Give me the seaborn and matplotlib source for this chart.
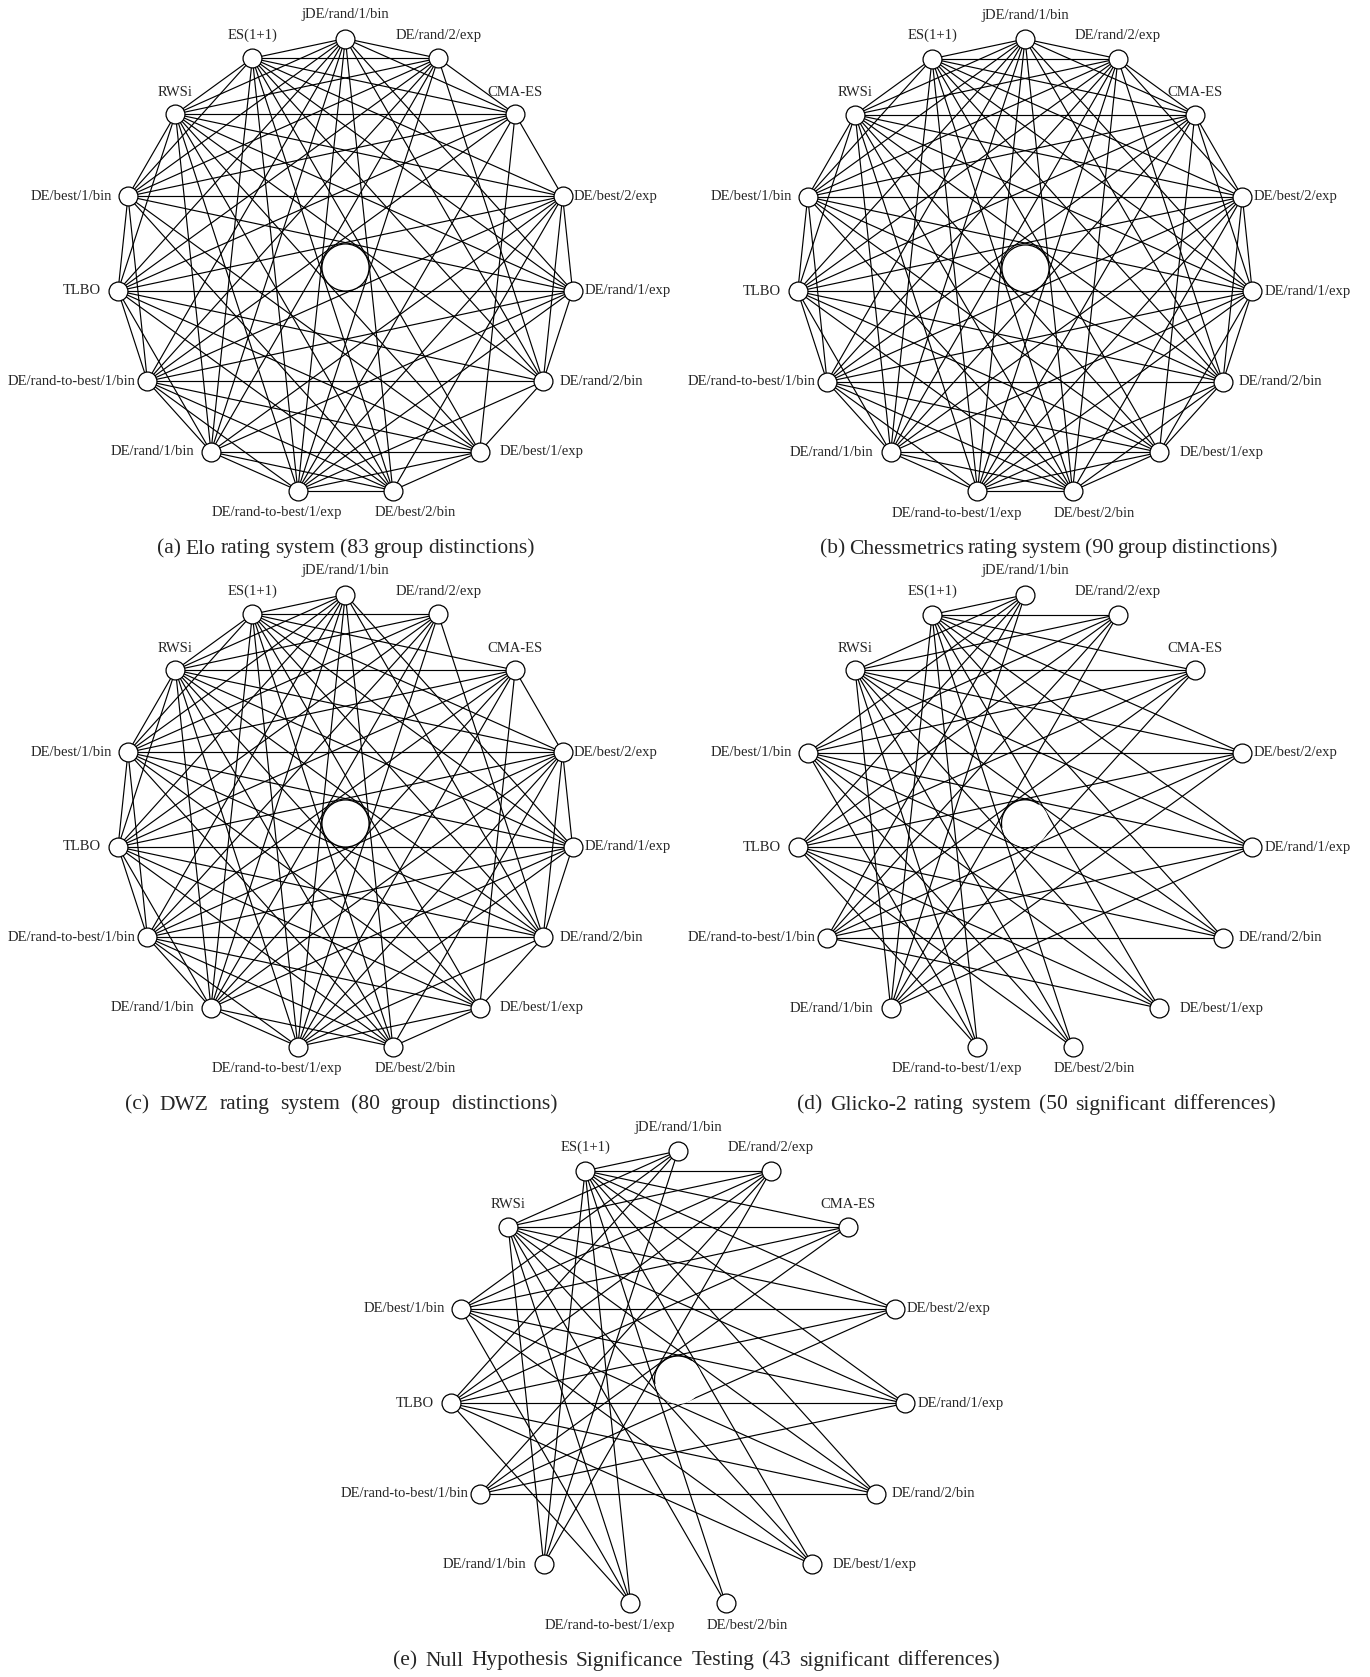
import numpy as np
import pandas as pd
import matplotlib
matplotlib.use("Agg")
import matplotlib.pyplot as plt
import seaborn as sns
from itertools import combinations

# =========================
# 1. DATA
# =========================
# algorithms in drawing order (clockwise, starting at the top)
algorithms = [
    "jDE/rand/1/bin", "DE/rand/2/exp", "CMA-ES", "DE/best/2/exp", "DE/rand/1/exp",
    "DE/rand/2/bin", "DE/best/1/exp", "DE/best/2/bin", "DE/rand-to-best/1/exp",
    "DE/rand/1/bin", "DE/rand-to-best/1/bin", "TLBO", "DE/best/1/bin", "RWSi", "ES(1+1)",
]

# dense panels: pairs WITHOUT a significant difference
elo_missing = [
    ("jDE/rand/1/bin", "DE/best/2/exp"), ("DE/best/2/exp", "DE/best/1/exp"),
    ("DE/best/1/exp", "DE/rand/2/exp"), ("DE/rand/2/exp", "DE/rand/1/exp"),
    ("DE/rand/1/exp", "DE/best/2/bin"), ("DE/best/2/bin", "CMA-ES"),
    ("CMA-ES", "DE/rand/2/bin"), ("DE/rand/2/bin", "DE/rand/1/bin"),
    ("DE/rand/1/bin", "DE/best/1/bin"), ("DE/best/1/bin", "DE/rand-to-best/1/exp"),
    ("DE/rand-to-best/1/exp", "TLBO"), ("TLBO", "ES(1+1)"),
    ("ES(1+1)", "DE/rand-to-best/1/bin"), ("DE/rand-to-best/1/bin", "RWSi"),
    ("jDE/rand/1/bin", "DE/best/1/exp"), ("DE/rand/2/exp", "DE/best/2/exp"),
    ("DE/rand/1/exp", "DE/best/1/exp"), ("DE/rand/2/exp", "DE/best/2/bin"),
    ("CMA-ES", "DE/rand/1/exp"), ("DE/rand/2/bin", "DE/best/2/bin"),
    ("CMA-ES", "DE/rand/1/bin"), ("DE/rand/2/bin", "DE/best/1/bin"),
]
chess_missing = [
    ("jDE/rand/1/bin", "DE/best/2/exp"), ("DE/best/2/exp", "DE/best/1/exp"),
    ("DE/best/1/exp", "DE/rand/2/exp"), ("DE/rand/2/exp", "DE/rand/1/exp"),
    ("DE/rand/1/exp", "DE/best/2/bin"), ("DE/best/2/bin", "CMA-ES"),
    ("CMA-ES", "DE/rand/2/bin"), ("DE/rand/2/bin", "DE/rand/1/bin"),
    ("DE/rand/1/bin", "DE/best/1/bin"), ("DE/best/1/bin", "DE/rand-to-best/1/exp"),
    ("DE/rand-to-best/1/exp", "TLBO"), ("TLBO", "ES(1+1)"),
    ("ES(1+1)", "DE/rand-to-best/1/bin"), ("DE/rand-to-best/1/bin", "RWSi"),
    ("jDE/rand/1/bin", "DE/best/1/exp"),
]
dwz_missing = [
    ("jDE/rand/1/bin", "DE/rand/2/exp"), ("DE/rand/2/exp", "CMA-ES"),
    ("jDE/rand/1/bin", "CMA-ES"), ("DE/rand-to-best/1/exp", "DE/best/2/bin"),
    ("DE/rand/1/bin", "DE/best/1/exp"),
    ("jDE/rand/1/bin", "DE/best/2/exp"), ("DE/best/2/exp", "DE/best/1/exp"),
    ("DE/best/1/exp", "DE/rand/2/exp"), ("DE/rand/2/exp", "DE/rand/1/exp"),
    ("DE/rand/1/exp", "DE/best/2/bin"), ("DE/best/2/bin", "CMA-ES"),
    ("CMA-ES", "DE/rand/2/bin"), ("DE/rand/2/bin", "DE/rand/1/bin"),
    ("DE/rand/1/bin", "DE/best/1/bin"), ("DE/best/1/bin", "DE/rand-to-best/1/exp"),
    ("DE/rand-to-best/1/exp", "TLBO"), ("TLBO", "ES(1+1)"),
    ("ES(1+1)", "DE/rand-to-best/1/bin"), ("DE/rand-to-best/1/bin", "RWSi"),
    ("jDE/rand/1/bin", "DE/best/1/exp"), ("DE/rand/2/exp", "DE/best/2/exp"),
    ("DE/rand/1/exp", "DE/best/1/exp"), ("DE/rand/2/exp", "DE/best/2/bin"),
    ("CMA-ES", "DE/rand/1/exp"), ("DE/rand/2/bin", "DE/best/2/bin"),
]

# sparse panels: pairs WITH a significant difference
strong = ["jDE/rand/1/bin", "DE/rand/2/exp", "CMA-ES", "DE/best/2/exp", "DE/rand/1/exp",
          "DE/rand/2/bin", "DE/best/1/exp", "DE/best/2/bin", "DE/rand-to-best/1/exp",
          "DE/rand/1/bin"]
glicko_edges = (
    [("ES(1+1)", a) for a in strong]
    + [("RWSi", a) for a in strong]
    + [("DE/best/1/bin", a) for a in strong[:9]]
    + [("TLBO", a) for a in strong[:9]]
    + [("DE/rand-to-best/1/bin", a) for a in strong[:7]]
    + [("DE/rand/1/bin", a) for a in strong[:5]]
)
nhst_edges = (
    [("ES(1+1)", a) for a in strong]
    + [("RWSi", a) for a in strong]
    + [("DE/best/1/bin", a) for a in strong[:7] + ["DE/rand-to-best/1/exp"]]
    + [("TLBO", a) for a in strong[:7] + ["DE/rand-to-best/1/exp"]]
    + [("DE/rand-to-best/1/bin", a) for a in strong[1:6]]
    + [("DE/rand/1/bin", a) for a in strong[:2]]
)

captions = [
    "(a) Elo rating system (83 group distinctions)",
    "(b) Chessmetrics rating system (90 group distinctions)",
    "(c) DWZ rating system (80 group distinctions)",
    "(d) Glicko-2 rating system (50 significant differences)",
    "(e) Null Hypothesis Significance Testing (43 significant differences)",
]


def complement(missing):
    miss = {frozenset(p) for p in missing}
    return [p for p in combinations(algorithms, 2) if frozenset(p) not in miss]


panel_edges = [complement(elo_missing), complement(chess_missing), complement(dwz_missing),
               glicko_edges, nhst_edges]

# =========================
# 2. LAYOUT (pixels)
# =========================
W, H = 1370, 1677
R = 228.5
centers = [(345.3, 267.0), (1025.0, 267.5), (345.3, 823.0), (1025.0, 823.3), (678.0, 1379.5)]
hub_full = [True, True, True, False, False]   # (d) and (e): only part of the outline shows
hub_r = 23.5
# caption boxes (left, right, y) - the captions are justified
caption_box = [(157, 535, 549), (820, 1278, 549), (125, 558, 1105),
               (797, 1276, 1105), (393, 1000, 1661)]

angles = np.deg2rad(90 - 24 * np.arange(len(algorithms)))

# label placement: dx, dy, ha
label_pos = {
    "jDE/rand/1/bin": (0, -24, "center"), "DE/rand/2/exp": (0, -23, "center"),
    "CMA-ES": (0, -22, "center"), "ES(1+1)": (0, -23, "center"), "RWSi": (0, -22, "center"),
    "DE/best/2/exp": (11, 0, "left"), "DE/rand/1/exp": (12, 0, "left"),
    "DE/rand/2/bin": (16, 0, "left"), "DE/best/1/exp": (20, 0, "left"),
    "DE/best/1/bin": (-16, 0, "right"), "TLBO": (-17, 0, "right"),
    "DE/rand-to-best/1/bin": (-12, 0, "right"), "DE/rand/1/bin": (-17, 0, "right"),
    "DE/rand-to-best/1/exp": (-21, 22, "center"), "DE/best/2/bin": (22, 22, "center"),
}

rows_nodes, rows_edges, rows_hub, rows_arc = [], [], [], []
arc_t = np.deg2rad(np.linspace(55, 190, 40))
for p, (cx, cy) in enumerate(centers):
    pos = {a: (cx + R * np.cos(t), cy - R * np.sin(t)) for a, t in zip(algorithms, angles)}
    for a in algorithms:
        rows_nodes.append({"panel": p, "alg": a, "x": pos[a][0], "y": pos[a][1]})
    for k, (u, v) in enumerate(panel_edges[p]):
        for a in (u, v):
            rows_edges.append({"edge": f"{p}-{k}", "x": pos[a][0], "y": pos[a][1]})
    rows_hub.append({"x": cx, "y": cy, "full": hub_full[p]})
    if not hub_full[p]:
        for t in arc_t:
            rows_arc.append({"arc": p, "x": cx + hub_r * np.cos(t), "y": cy - hub_r * np.sin(t)})

nodes = pd.DataFrame(rows_nodes)
edges = pd.DataFrame(rows_edges)
hubs = pd.DataFrame(rows_hub)
arcs = pd.DataFrame(rows_arc)

# =========================
# 3. FIGURE
# =========================
sns.set_theme(style="white")
plt.rcParams["font.family"] = ["Liberation Serif", "DejaVu Serif"]

fig = plt.figure(figsize=(W / 100, H / 100), dpi=100)
ax = fig.add_axes([0, 0, 1, 1])

sns.lineplot(data=edges, x="x", y="y", units="edge", estimator=None, sort=False,
             color="black", linewidth=0.85, ax=ax, legend=False)
sns.scatterplot(data=hubs[hubs["full"]], x="x", y="y", s=1150, color="white",
                edgecolor="black", linewidth=0.9, ax=ax, zorder=3, legend=False)
sns.scatterplot(data=hubs[~hubs["full"]], x="x", y="y", s=1150, color="white",
                edgecolor="white", linewidth=0, ax=ax, zorder=3, legend=False)
sns.lineplot(data=arcs, x="x", y="y", units="arc", estimator=None, sort=False,
             color="black", linewidth=0.9, ax=ax, legend=False, zorder=3.5)
sns.scatterplot(data=nodes, x="x", y="y", s=185, color="white", edgecolor="black",
                linewidth=0.9, ax=ax, zorder=4, legend=False)
ax.set_xlim(0, W)
ax.set_ylim(H, 0)
ax.axis("off")

for _, r in nodes.iterrows():
    dx, dy, ha = label_pos[r["alg"]]
    ax.text(r["x"] + dx, r["y"] + dy, r["alg"], ha=ha, va="center", fontsize=10.5, zorder=5)

# justified sub-captions
renderer = fig.canvas.get_renderer()
for (x0, x1, yc), txt in zip(caption_box, captions):
    words = txt.split(" ")
    items = [ax.text(0, yc, w, ha="left", va="center", fontsize=15.5) for w in words]
    widths = [t.get_window_extent(renderer).width for t in items]
    gap = (x1 - x0 - sum(widths)) / (len(words) - 1)
    x = x0
    for t, w in zip(items, widths):
        t.set_x(x)
        x += w + gap

fig.savefig("out.png", dpi=100)
plt.close(fig)
